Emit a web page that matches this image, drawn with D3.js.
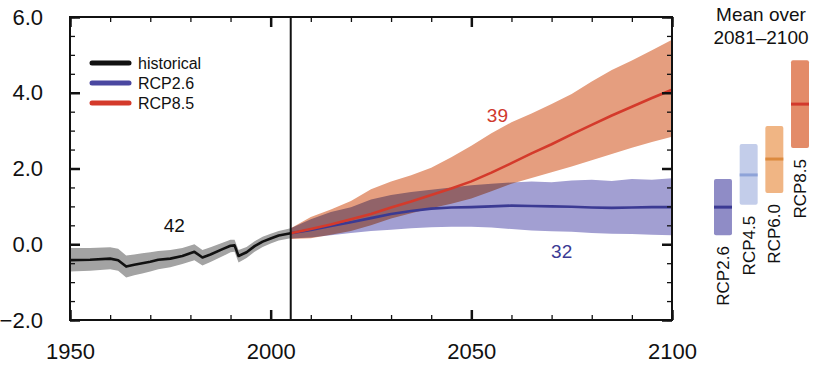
<!DOCTYPE html>
<html>
<head>
<meta charset="utf-8">
<title>Global average surface temperature change</title>
<script src="https://d3js.org/d3.v7.min.js"></script>
<style>
body { margin: 0; background: #fff; }
svg { display: block; font-family: "Liberation Sans", Arial, sans-serif; }
.frame { fill: none; stroke: #111; stroke-width: 2px; }
.axis path.domain { display: none; }
.axis text { font-size: 22px; fill: #111; }
.major line { stroke: #111; stroke-width: 2.5px; }
.minor line { stroke: #111; stroke-width: 1.3px; }
.line { fill: none; stroke-width: 2.6px; stroke-linejoin: round; }
</style>
</head>
<body>
<div id="chart"></div>
<script>

// historical run, 1950-2005 (mean and model spread)
var histYears = [1950, 1955, 1960, 1962, 1964, 1966, 1968, 1970, 1972, 1975, 1978, 1981, 1983, 1985, 1988, 1990, 1991, 1992, 1994, 1996, 1998, 2000, 2002, 2005];
var histMean  = [-0.42, -0.41, -0.38, -0.42, -0.59, -0.54, -0.50, -0.46, -0.41, -0.38, -0.31, -0.20, -0.35, -0.27, -0.13, -0.04, -0.03, -0.31, -0.21, -0.05, 0.07, 0.15, 0.23, 0.29];
var histHi    = [-0.10, -0.10, -0.08, -0.12, -0.30, -0.27, -0.24, -0.21, -0.18, -0.15, -0.10, 0.00, -0.15, -0.08, 0.04, 0.12, 0.12, -0.15, -0.07, 0.08, 0.20, 0.28, 0.35, 0.42];
var histLo    = [-0.72, -0.70, -0.66, -0.70, -0.88, -0.82, -0.77, -0.72, -0.66, -0.61, -0.52, -0.42, -0.56, -0.47, -0.32, -0.21, -0.20, -0.48, -0.36, -0.20, -0.07, 0.02, 0.10, 0.16];

// projections 2005-2100
var projYears = [2005, 2010, 2015, 2020, 2025, 2030, 2035, 2040, 2045, 2050, 2055, 2060, 2065, 2070, 2075, 2080, 2085, 2090, 2095, 2100];
var rcp85Mean = [0.29, 0.40, 0.52, 0.66, 0.80, 0.97, 1.13, 1.30, 1.47, 1.66, 1.89, 2.14, 2.40, 2.64, 2.90, 3.15, 3.40, 3.63, 3.86, 4.08];
var rcp85Hi   = [0.42, 0.72, 0.92, 1.14, 1.45, 1.66, 1.82, 2.02, 2.30, 2.60, 2.93, 3.22, 3.45, 3.70, 3.97, 4.30, 4.60, 4.85, 5.12, 5.40];
var rcp85Lo   = [0.14, 0.16, 0.25, 0.35, 0.50, 0.68, 0.82, 0.95, 1.07, 1.21, 1.40, 1.60, 1.75, 1.90, 2.05, 2.22, 2.38, 2.55, 2.70, 2.84];
var rcp26Mean = [0.29, 0.38, 0.48, 0.58, 0.69, 0.80, 0.88, 0.94, 0.97, 0.98, 1.00, 1.02, 1.01, 1.00, 0.99, 0.97, 0.96, 0.97, 0.98, 0.98];
var rcp26Hi   = [0.42, 0.66, 0.85, 0.98, 1.18, 1.30, 1.38, 1.44, 1.50, 1.56, 1.60, 1.63, 1.66, 1.64, 1.68, 1.70, 1.67, 1.72, 1.70, 1.74];
var rcp26Lo   = [0.15, 0.18, 0.24, 0.30, 0.35, 0.38, 0.42, 0.45, 0.46, 0.46, 0.44, 0.40, 0.36, 0.34, 0.33, 0.30, 0.28, 0.27, 0.25, 0.24];

// number of models
var modelCounts = [
  {text: "42", year: 1976, value: 0.51, color: "#111"},
  {text: "39", year: 2056.5, value: 3.41, color: "#d0392d"},
  {text: "32", year: 2072.5, value: -0.20, color: "#3b3a93"}
];

// mean over 2081-2100 panel
var panelNames = ["RCP2.6", "RCP4.5", "RCP6.0", "RCP8.5"];
var panelMean  = [0.98, 1.83, 2.25, 3.70];
var panelLo    = [0.24, 1.04, 1.35, 2.54];
var panelHi    = [1.72, 2.65, 3.12, 4.86];
var panelFill  = ["#8f8cc6", "#c3cdea", "#f0b584", "#e38b68"];
var panelLine  = ["#3b3a93", "#8ea3d8", "#dc8a3e", "#d23a2c"];

var xTicks = [1950, 2000, 2050, 2100];
var yTicks = [-2, 0, 2, 4, 6];

var W = 825, H = 375;
var m = {left: 70, right: 672, top: 17, bottom: 320};

var svg = d3.select("#chart").append("svg")
    .attr("width", W)
    .attr("height", H);

svg.append("rect").attr("width", W).attr("height", H).attr("fill", "#fff");

var x = d3.scaleLinear().domain([1950, 2100]).range([m.left, m.right]);
var y = d3.scaleLinear().domain([-2, 6]).range([m.bottom, m.top]);

svg.append("clipPath").attr("id", "plot")
  .append("rect")
    .attr("x", m.left).attr("y", m.top)
    .attr("width", m.right - m.left).attr("height", m.bottom - m.top);

var plot = svg.append("g").attr("clip-path", "url(#plot)");

function band(years, lo, hi) {
  return d3.area()
      .x(function(d, i) { return x(years[i]); })
      .y0(function(d, i) { return y(lo[i]); })
      .y1(function(d, i) { return y(hi[i]); })(years);
}
function line(years, vals) {
  return d3.line()
      .x(function(d, i) { return x(years[i]); })
      .y(function(d, i) { return y(vals[i]); })(years);
}

// spreads
plot.append("path").attr("d", band(histYears, histLo, histHi)).attr("fill", "#a3a3a3");
plot.append("path").attr("d", band(projYears, rcp85Lo, rcp85Hi)).attr("fill", "#e59e7f");
plot.append("path").attr("d", band(projYears, rcp26Lo, rcp26Hi))
    .attr("fill", "#a29fd2")
    .style("mix-blend-mode", "multiply");

// means
plot.append("path").attr("class", "line").attr("d", line(histYears, histMean)).attr("stroke", "#111");
plot.append("path").attr("class", "line").attr("d", line(projYears, rcp26Mean)).attr("stroke", "#3b3a93");
plot.append("path").attr("class", "line").attr("d", line(projYears, rcp85Mean)).attr("stroke", "#d43a2b");

// 2005 divider
svg.append("line")
    .attr("x1", x(2005)).attr("x2", x(2005))
    .attr("y1", m.top).attr("y2", m.bottom)
    .attr("stroke", "#111").attr("stroke-width", 2);

// ticks, all pointing inward
var minorX = d3.range(1950, 2101, 10);
var minorY = d3.range(-2, 6.01, 0.5);

svg.append("g").attr("class", "axis minor").attr("transform", "translate(0," + m.bottom + ")")
    .call(d3.axisBottom(x).tickValues(minorX).tickSize(-5).tickFormat(""));
svg.append("g").attr("class", "axis minor").attr("transform", "translate(0," + m.top + ")")
    .call(d3.axisTop(x).tickValues(minorX).tickSize(-5).tickFormat(""));
svg.append("g").attr("class", "axis minor").attr("transform", "translate(" + m.left + ",0)")
    .call(d3.axisLeft(y).tickValues(minorY).tickSize(-5).tickFormat(""));
svg.append("g").attr("class", "axis minor").attr("transform", "translate(" + m.right + ",0)")
    .call(d3.axisRight(y).tickValues(minorY).tickSize(-5).tickFormat(""));

svg.append("g").attr("class", "axis major").attr("transform", "translate(0," + m.bottom + ")")
    .call(d3.axisBottom(x).tickValues(xTicks).tickSize(-10).tickPadding(23).tickFormat(d3.format("d")));
svg.append("g").attr("class", "axis major").attr("transform", "translate(0," + m.top + ")")
    .call(d3.axisTop(x).tickValues(xTicks).tickSize(-10).tickFormat(""));
svg.append("g").attr("class", "axis major").attr("transform", "translate(" + m.left + ",0)")
    .call(d3.axisLeft(y).tickValues(yTicks).tickSize(-10).tickPadding(27).tickFormat(d3.format(".1f")));
svg.append("g").attr("class", "axis major").attr("transform", "translate(" + m.right + ",0)")
    .call(d3.axisRight(y).tickValues(yTicks).tickSize(-10).tickFormat(""));

svg.selectAll(".axis text").style("font-family", "'Liberation Sans', Arial, sans-serif");

svg.append("rect").attr("class", "frame")
    .attr("x", m.left).attr("y", m.top)
    .attr("width", m.right - m.left).attr("height", m.bottom - m.top);

// legend
var legend = [
  {name: "historical", color: "#111"},
  {name: "RCP2.6", color: "#4a47a0"},
  {name: "RCP8.5", color: "#d43a2b"}
];
var lg = svg.append("g").attr("transform", "translate(92,63)");
lg.selectAll("line").data(legend).enter().append("line")
    .attr("x1", 0).attr("x2", 37)
    .attr("y1", function(d, i) { return i * 20; })
    .attr("y2", function(d, i) { return i * 20; })
    .attr("stroke", function(d) { return d.color; })
    .attr("stroke-width", 5)
    .attr("stroke-linecap", "round");
lg.selectAll("text").data(legend).enter().append("text")
    .attr("x", 46)
    .attr("y", function(d, i) { return i * 20; })
    .attr("dy", "0.35em")
    .attr("font-size", 16)
    .attr("fill", "#111")
    .text(function(d) { return d.name; });

// model counts
svg.selectAll("text.count").data(modelCounts).enter().append("text")
    .attr("class", "count")
    .attr("x", function(d) { return x(d.year); })
    .attr("y", function(d) { return y(d.value); })
    .attr("dy", "0.35em")
    .attr("text-anchor", "middle")
    .attr("font-size", 19)
    .attr("fill", function(d) { return d.color; })
    .text(function(d) { return d.text; });

// right panel
var xb = d3.scaleBand().domain(panelNames).range([714, 809]).paddingInner(0.3);

svg.append("text").attr("x", 761).attr("y", 21).attr("text-anchor", "middle")
    .attr("font-size", 19).attr("fill", "#111").text("Mean over");
svg.append("text").attr("x", 761).attr("y", 44).attr("text-anchor", "middle")
    .attr("font-size", 19).attr("fill", "#111").text("2081\u20132100");

var pg = svg.append("g");
panelNames.forEach(function(name, i) {
  pg.append("rect")
      .attr("x", xb(name)).attr("width", xb.bandwidth())
      .attr("y", y(panelHi[i])).attr("height", y(panelLo[i]) - y(panelHi[i]))
      .attr("rx", 2)
      .attr("fill", panelFill[i]);
  pg.append("line")
      .attr("x1", xb(name)).attr("x2", xb(name) + xb.bandwidth())
      .attr("y1", y(panelMean[i])).attr("y2", y(panelMean[i]))
      .attr("stroke", panelLine[i]).attr("stroke-width", 3);
  var cx = xb(name) + xb.bandwidth() / 2, ty = y(panelLo[i]) + 11;
  pg.append("text")
      .attr("transform", "translate(" + cx + "," + ty + ") rotate(-90)")
      .attr("dy", "0.35em")
      .attr("text-anchor", "end")
      .attr("font-size", 17)
      .attr("fill", "#111")
      .text(name);
});

</script>
</body>
</html>
